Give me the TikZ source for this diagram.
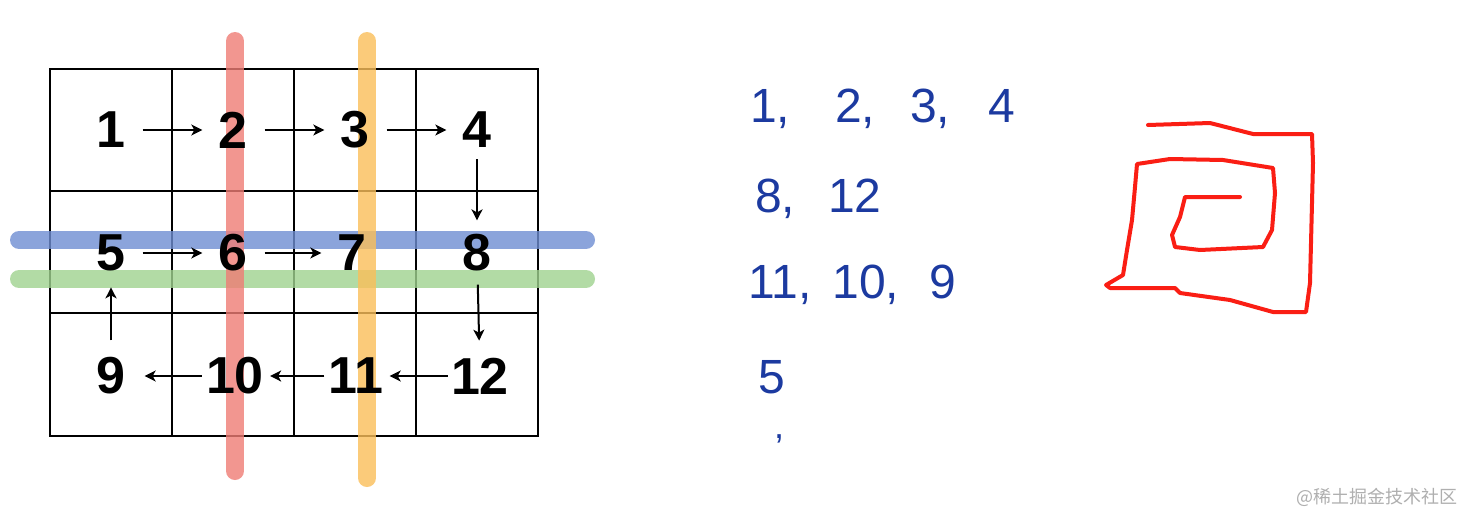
\documentclass[tikz,border=0pt]{standalone}
\usepackage{fontspec}
\setmainfont{Liberation Sans}
\newfontfamily\cjkfont{Noto Sans CJK SC}
\usetikzlibrary{arrows.meta}
\definecolor{barred}{RGB}{239,124,117}
\definecolor{barorange}{RGB}{251,191,89}
\definecolor{barblue}{RGB}{111,142,211}
\definecolor{bargreen}{RGB}{159,211,143}
\definecolor{ink}{RGB}{28,58,160}
\definecolor{spiralred}{RGB}{250,30,20}
\definecolor{wmgray}{RGB}{175,175,175}
\begin{document}
\begin{tikzpicture}[x=1pt,y=-1pt,
  num/.style={font=\fontsize{52}{52}\selectfont\bfseries, inner sep=0pt},
  arr/.style={line width=2pt, -{Stealth[length=11pt,width=11pt,inset=3pt]}},
  gridline/.style={line width=2pt},
  bar/.style={line width=18pt, line cap=round, opacity=0.8},
  hand/.style={font=\fontsize{48}{48}\selectfont, text=ink, inner sep=0pt, anchor=base west},
  spiral/.style={line width=4pt, draw=spiralred, line join=round, line cap=round}]
\useasboundingbox (0,0) rectangle (1464,514);
\fill[white] (0,0) rectangle (1464,514);

% grid
\draw[gridline] (50,69) rectangle (538,436);
\foreach \x in {172,294,416} \draw[gridline] (\x,69) -- (\x,436);
\foreach \y in {191,313} \draw[gridline] (50,\y) -- (538,\y);

% highlight bars
\draw[bar, draw=barblue] (19,240) -- (586,240);
\draw[bar, draw=bargreen] (19,279) -- (586,279);
\draw[bar, draw=barred] (235,41) -- (235,471);
\draw[bar, draw=barorange] (367,41) -- (367,478);

% numbers
\node[num] (n1) at (111,130) {1};
\node[num] (n2) at (233,130) {2};
\node[num] (n3) at (355,130) {3};
\node[num] (n4) at (477,130) {4};
\node[num] (n5) at (111,253) {5};
\node[num] (n6) at (233,253) {6};
\node[num] (n7) at (352,253) {7};
\node[num] (n8) at (477,253) {8};
\node[num] (n9) at (111,376) {9};
\node[num] (n10) at (235,376) {10};
\node[num] (n11) at (356,376) {11};
\node[num] (n12) at (480,376) {12};

% arrows
\draw[arr, shorten <=17pt, shorten >=16pt] (n1) -- (n2);
\draw[arr, shorten <=17pt, shorten >=16pt] (n2) -- (n3);
\draw[arr, shorten <=17pt, shorten >=16pt] (n3) -- (n4);
\draw[arr, shorten <=11pt, shorten >=14pt] (n4) -- (n8);
\draw[arr, shorten <=13pt, shorten >=17pt] (n8) -- (n12);
\draw[arr, shorten <=3pt, shorten >=6pt] (n12) -- (n11);
\draw[arr, shorten <=4pt, shorten >=6pt] (n11) -- (n10);
\draw[arr, shorten <=4pt, shorten >=19pt] (n10) -- (n9);
\draw[arr, shorten <=17pt, shorten >=16pt] (n9) -- (n5);
\draw[arr, shorten <=17pt, shorten >=16pt] (n5) -- (n6);
\draw[arr, shorten <=17pt, shorten >=16pt] (n6) -- (n7);

% handwritten order
\node[hand] (l1) at (750,122) {1,\hspace{45pt}2,\hspace{35pt}3,\hspace{38pt}4};
\node[hand] (l2) at (755,212) {8,\hspace{33pt}12};
\node[hand] (l3) at (748,298) {11,\hspace{21pt}10,\hspace{30pt}9};
\node[hand] (l4) at (758,393) {5};
\node[hand, font=\fontsize{36}{36}\selectfont] (l5) at (774,438) {,};

% spiral
\draw[spiral] (1148,125) -- (1210,123) -- (1253,134) -- (1312,134) -- (1313,163)
  -- (1310,283) -- (1306,312) -- (1273,312) -- (1230,300) -- (1180,293) -- (1175,288)
  -- (1110,288) -- (1106,285) -- (1123,275) -- (1127,250) -- (1132,220) -- (1135,187)
  -- (1137,164) -- (1170,159) -- (1223,160) -- (1273,168) -- (1275,193) -- (1272,230)
  -- (1263,247) -- (1200,250) -- (1175,247) -- (1172,235) -- (1180,217) -- (1185,197)
  -- (1240,197);

% watermark
\node[font=\cjkfont\fontsize{18}{18}\selectfont, text=wmgray, anchor=east, inner sep=0pt] (wm) at (1458,497) {@稀土掘金技术社区};
\end{tikzpicture}
\end{document}
